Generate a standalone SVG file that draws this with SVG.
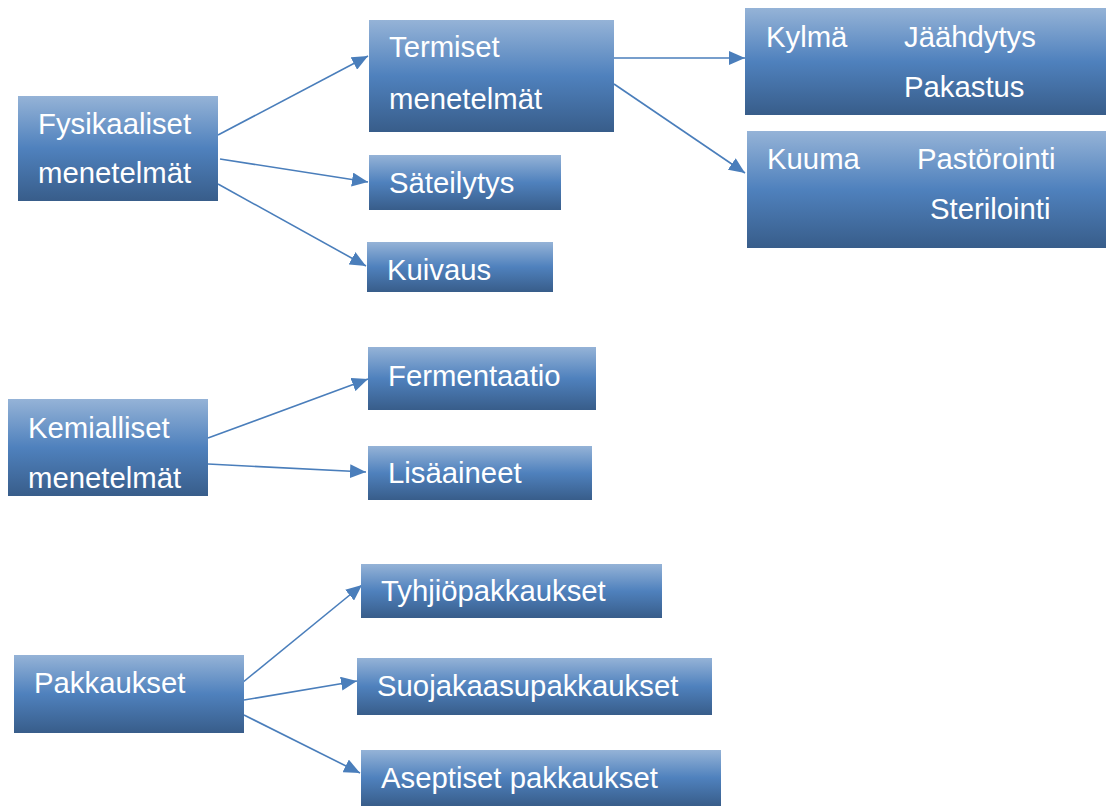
<svg xmlns="http://www.w3.org/2000/svg" width="1106" height="807" viewBox="0 0 1106 807">
<defs>
<linearGradient id="g" x1="0" y1="0" x2="0" y2="1">
<stop offset="0" stop-color="#95b3d7"/>
<stop offset="0.5" stop-color="#4f81bd"/>
<stop offset="1" stop-color="#385d8a"/>
</linearGradient>
<marker id="arr" markerUnits="userSpaceOnUse" markerWidth="18" markerHeight="14" refX="16" refY="7" orient="auto">
<path d="M0,0 L16,7 L0,14 Z" fill="#4a7ebb"/>
</marker>
<style>
.box{fill:url(#g);}
.t{font-family:"Liberation Sans",Arial,sans-serif;font-size:29.3px;fill:#ffffff;}
.c{stroke:#4a7ebb;stroke-width:1.6;fill:none;marker-end:url(#arr);}
</style>
</defs>
<g id="connectors">
<line class="c" x1="218" y1="135" x2="368" y2="56"/>
<line class="c" x1="220" y1="159" x2="368" y2="182"/>
<line class="c" x1="218" y1="184" x2="366" y2="266"/>
<line class="c" x1="614" y1="58" x2="745" y2="58"/>
<line class="c" x1="614" y1="84" x2="745" y2="173"/>
<line class="c" x1="208" y1="438" x2="368" y2="379"/>
<line class="c" x1="208" y1="464" x2="366" y2="472"/>
<line class="c" x1="242" y1="683" x2="362" y2="585"/>
<line class="c" x1="244" y1="700" x2="357" y2="681"/>
<line class="c" x1="244" y1="715" x2="360" y2="773"/>
</g>
<g id="fysikaaliset">
<rect class="box" x="18" y="96" width="200" height="105"/>
<text class="t" x="38" y="134">Fysikaaliset</text>
<text class="t" x="38" y="183">menetelmät</text>
</g>
<g id="termiset">
<rect class="box" x="369" y="20" width="245" height="112"/>
<text class="t" x="389" y="57">Termiset</text>
<text class="t" x="389" y="109">menetelmät</text>
</g>
<g id="sateilytys">
<rect class="box" x="369" y="155" width="192" height="55"/>
<text class="t" x="389" y="193">Säteilytys</text>
</g>
<g id="kuivaus">
<rect class="box" x="367" y="242" width="186" height="50"/>
<text class="t" x="387" y="280">Kuivaus</text>
</g>
<g id="kylma">
<rect class="box" x="745" y="8" width="361" height="107"/>
<text class="t" x="766" y="47">Kylmä</text>
<text class="t" x="904" y="47">Jäähdytys</text>
<text class="t" x="904" y="97">Pakastus</text>
</g>
<g id="kuuma">
<rect class="box" x="747" y="131" width="359" height="117"/>
<text class="t" x="767" y="169">Kuuma</text>
<text class="t" x="917" y="169">Pastörointi</text>
<text class="t" x="930" y="219">Sterilointi</text>
</g>
<g id="kemialliset">
<rect class="box" x="8" y="399" width="200" height="97"/>
<text class="t" x="28" y="438">Kemialliset</text>
<text class="t" x="28" y="488">menetelmät</text>
</g>
<g id="fermentaatio">
<rect class="box" x="368" y="347" width="228" height="63"/>
<text class="t" x="388" y="386">Fermentaatio</text>
</g>
<g id="lisaaineet">
<rect class="box" x="368" y="446" width="224" height="54"/>
<text class="t" x="388" y="483">Lisäaineet</text>
</g>
<g id="pakkaukset">
<rect class="box" x="14" y="655" width="230" height="78"/>
<text class="t" x="34" y="693">Pakkaukset</text>
</g>
<g id="tyhjiopakkaukset">
<rect class="box" x="361" y="564" width="301" height="54"/>
<text class="t" x="381" y="601">Tyhjiöpakkaukset</text>
</g>
<g id="suojakaasupakkaukset">
<rect class="box" x="357" y="658" width="355" height="57"/>
<text class="t" x="377" y="696">Suojakaasupakkaukset</text>
</g>
<g id="aseptiset">
<rect class="box" x="361" y="750" width="360" height="56"/>
<text class="t" x="381" y="788">Aseptiset pakkaukset</text>
</g>
</svg>
